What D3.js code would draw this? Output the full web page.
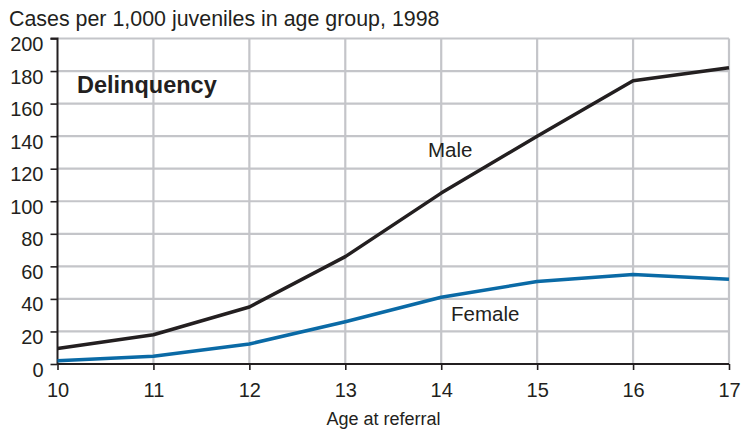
<!DOCTYPE html>
<html>
<head>
<meta charset="utf-8">
<script src="https://cdn.jsdelivr.net/npm/d3@7"></script>
<style>
  body { margin: 0; background: #fff; }
  text { font-family: "Liberation Sans", Arial, Helvetica, sans-serif; fill: #231f20; }
</style>
</head>
<body>
<div id="chart"></div>
<script>
// ages at referral and case rates (per 1,000 juveniles)
var ages = [10, 11, 12, 13, 14, 15, 16, 17];
var male = [9.5, 18, 35, 66, 105, 140, 174, 182];
var female = [2, 4.7, 12.3, 26, 41, 50.7, 55, 52];
var yTicks = [0, 20, 40, 60, 80, 100, 120, 140, 160, 180, 200];

var margin = {top: 38.5, right: 12, bottom: 66, left: 57.5}
  , width = 741 - margin.left - margin.right
  , height = 430 - margin.top - margin.bottom;

var xScale = d3.scaleLinear()
  .domain([10, 17])
  .range([0, width]);

var yScale = d3.scaleLinear()
  .domain([0, 200])
  .range([height, 0]);

var svg = d3.select("#chart").append("svg")
  .attr("width", 741)
  .attr("height", 430);

// title
svg.append("text")
  .attr("x", 9)
  .attr("y", 25.5)
  .style("font-size", "21.4px")
  .text("Cases per 1,000 juveniles in age group, 1998");

var g = svg.append("g")
  .attr("transform", "translate(" + margin.left + "," + margin.top + ")");

// grid
g.append("g")
  .selectAll("line")
  .data(yTicks.slice(1))
  .enter().append("line")
  .attr("x1", 0)
  .attr("x2", width)
  .attr("y1", function(d) { return yScale(d); })
  .attr("y2", function(d) { return yScale(d); })
  .attr("stroke", "#c4c5c9")
  .attr("stroke-width", 2.2);

g.append("g")
  .selectAll("line")
  .data(ages.slice(1))
  .enter().append("line")
  .attr("x1", function(d) { return xScale(d); })
  .attr("x2", function(d) { return xScale(d); })
  .attr("y1", 0)
  .attr("y2", height)
  .attr("stroke", "#c4c5c9")
  .attr("stroke-width", 2.2);

// axes
var xAxis = g.append("g")
  .attr("transform", "translate(0," + height + ")")
  .call(d3.axisBottom(xScale).tickValues(ages).tickFormat(d3.format("d")).tickSize(6).tickPadding(13));

var yAxis = g.append("g")
  .call(d3.axisLeft(yScale).tickValues(yTicks).tickSize(7).tickPadding(7));

[xAxis, yAxis].forEach(function(a) {
  a.select(".domain").attr("stroke", "#231f20").attr("stroke-width", 2);
  a.selectAll(".tick line").attr("stroke", "#231f20").attr("stroke-width", 1.6);
  a.selectAll(".tick text")
    .style("font-size", "20px")
    .attr("fill", "#231f20")
    .style("font-family", "'Liberation Sans', Arial, sans-serif");
});
// y labels sit a little below their ticks in the original
yAxis.selectAll(".tick text").attr("dy", "0.6em");
yAxis.select(".domain").attr("d", "M-7," + yScale(200) + "H0V" + yScale(0));
xAxis.select(".domain").attr("d", "M0,0H" + width);

// lines
var line = d3.line()
  .x(function(d, i) { return xScale(ages[i]); })
  .y(function(d) { return yScale(d); });

g.append("path")
  .datum(female)
  .attr("d", line)
  .attr("fill", "none")
  .attr("stroke", "#0a6aa6")
  .attr("stroke-width", 3.5)
  .attr("stroke-linejoin", "round");

g.append("path")
  .datum(male)
  .attr("d", line)
  .attr("fill", "none")
  .attr("stroke", "#231f20")
  .attr("stroke-width", 3.5)
  .attr("stroke-linejoin", "round");

// labels
svg.append("text")
  .attr("x", 77)
  .attr("y", 93)
  .style("font-size", "23.5px")
  .style("font-weight", "bold")
  .text("Delinquency");

svg.append("text")
  .attr("x", 428)
  .attr("y", 157)
  .style("font-size", "20.5px")
  .text("Male");

svg.append("text")
  .attr("x", 451)
  .attr("y", 321)
  .style("font-size", "20.5px")
  .text("Female");

svg.append("text")
  .attr("x", 383.5)
  .attr("y", 425)
  .attr("text-anchor", "middle")
  .style("font-size", "18px")
  .text("Age at referral");
</script>
</body>
</html>
